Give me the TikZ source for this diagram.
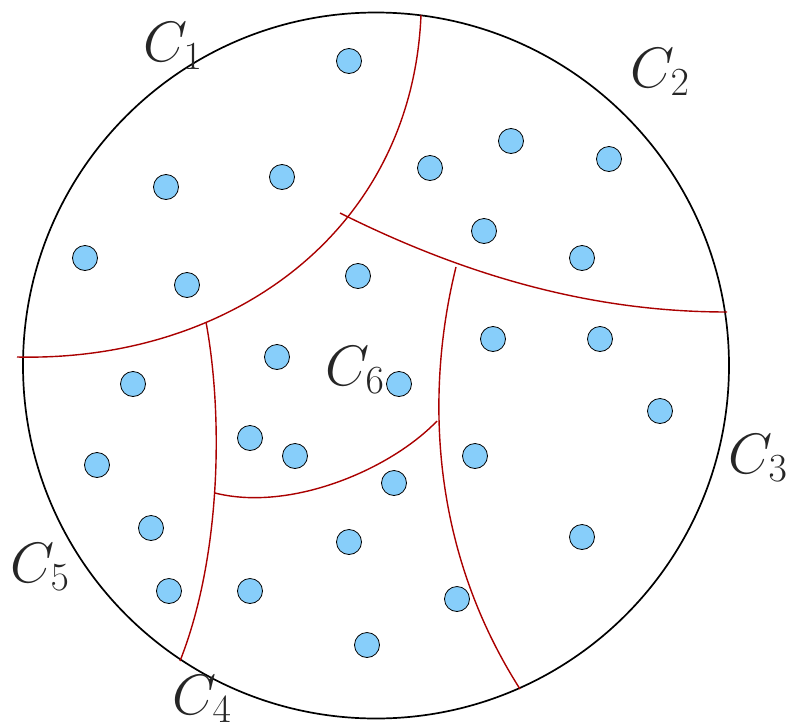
\documentclass[tikz,border=0pt]{standalone}
\usepackage{fix-cm}
\definecolor{dotblue}{RGB}{135,206,250}
\definecolor{bdred}{RGB}{170,0,0}
\begin{document}
\begin{tikzpicture}[x=1pt,y=-1pt,
  pt/.style={circle,draw=black,line width=0.8pt,fill=dotblue,minimum size=25pt,inner sep=0pt},
  bd/.style={draw=bdred,line width=1.4pt},
  lab/.style={font=\fontsize{57}{60}\selectfont,inner sep=0pt,text=black!85}]
\useasboundingbox (0,0) rectangle (793,726);
\draw[line width=1.7pt] (376,365.5) circle[radius=353];
% region boundaries
\coordinate (a1) at (17,357);
\coordinate (a2) at (421,15);
\coordinate (b1) at (340,213);
\coordinate (b2) at (727,312);
\coordinate (c1) at (456,267);
\coordinate (c2) at (520,689);
\coordinate (d1) at (215,493);
\coordinate (d2) at (437,421);
\coordinate (e1) at (206,322);
\coordinate (e2) at (180,661);
\draw[bd] (a1) .. controls (230,362) and (412,232) .. (a2);
\draw[bd] (b1) .. controls (478.6,282.3) and (604.2,312) .. (b2);
\draw[bd] (c1) .. controls (428,380) and (425,540) .. (c2);
\draw[bd] (d1) .. controls (290,512) and (390,470) .. (d2);
\draw[bd] (e1) .. controls (224,420) and (220,560) .. (e2);
% points
\foreach \n/\x/\y in {p1/349/61, p2/166/187, p3/282/177, p4/85/258, p5/187/285,
  p6/430/168, p7/511/141, p8/609/159, p9/484/231, p10/582/258,
  p11/358/276, p12/277/357, p13/493/339, p14/600/339, p15/133/384,
  p16/399/384, p17/660/411, p18/250/438, p19/295/456, p20/97/465,
  p21/475/456, p22/394/483, p23/151/528, p24/349/542, p25/582/537,
  p26/169/591, p27/250/591, p28/457/599, p29/367/645}
  \node[pt] (\n) at (\x,\y) {};
% labels
\node[lab] (l1) at (173,46) {$C_1$};
\node[lab] (l2) at (660,72) {$C_2$};
\node[lab] (l3) at (758,458) {$C_3$};
\node[lab] (l4) at (202,699) {$C_4$};
\node[lab] (l5) at (40,567) {$C_5$};
\node[lab] (l6) at (355,370) {$C_6$};
\end{tikzpicture}
\end{document}
